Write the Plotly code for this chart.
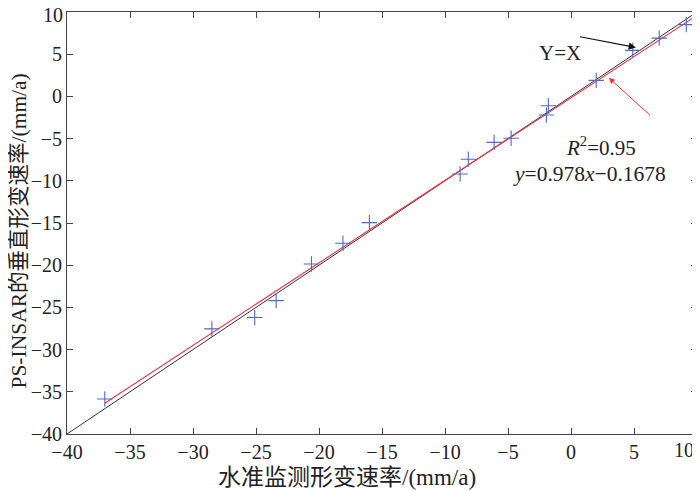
import plotly.graph_objects as go

# Data
level_rate = [-37.0, -28.5, -25.1, -23.4, -20.6, -18.1, -16.0, -8.8, -8.15, -6.1, -4.75,
              -1.95, -1.8, 2.0, 4.9, 7.0, 9.15]
psinsar_rate = [-35.85, -27.55, -26.2, -24.2, -19.85, -17.4, -14.95, -9.2, -7.45, -5.45, -4.95,
                -2.2, -1.1, 1.9, 5.45, 6.9, 8.5]

identity_x = [-40, 10]
identity_y = [-40, 10]

fit_slope = 0.978
fit_intercept = -0.1678
fit_x = [-37.0, 10.0]
fit_y = [fit_slope * v + fit_intercept for v in fit_x]

tick_vals_x = [-40, -35, -30, -25, -20, -15, -10, -5, 0, 5, 10]
# the last labels ("10") are drawn as annotations so they stay inside the page
tick_text_x = ["−40", "−35", "−30", "−25", "−20", "−15", "−10", "−5", "0", "5", ""]
last_tick_label_x = "10"
tick_vals_y = [-40, -35, -30, -25, -20, -15, -10, -5, 0, 5, 10]
tick_text_y = ["−40", "−35", "−30", "−25", "−20", "−15", "−10", "−5", "0", "5", ""]
last_tick_label_y = "10"

FONT = "Liberation Serif, Noto Sans CJK SC, serif"
TICKFONT = dict(family="Liberation Serif", size=20, color="#222222")

fig = go.Figure()
fig.add_trace(go.Scatter(x=identity_x, y=identity_y, mode="lines",
                         line=dict(color="#333333", width=1), showlegend=False))
fig.add_trace(go.Scatter(x=fit_x, y=fit_y, mode="lines",
                         line=dict(color="#ee3344", width=1.1), showlegend=False))
fig.add_trace(go.Scatter(x=level_rate, y=psinsar_rate, mode="markers",
                         marker=dict(symbol="cross-thin", size=11,
                                     line=dict(color="#5266cc", width=1.1)),
                         showlegend=False))

axis_common = dict(
    showgrid=False, zeroline=False, showline=True, linecolor="#444444", linewidth=1,
    mirror="ticks", ticks="inside", ticklen=6, tickcolor="#444444", automargin=False,
    ticklabeloverflow="allow",
    tickfont=TICKFONT,
)

fig.update_layout(
    width=692, height=483,
    margin=dict(l=59, r=3, t=4, b=57),
    paper_bgcolor="white", plot_bgcolor="white",
    font=dict(family=FONT, color="#222222"),
    xaxis=dict(range=[-40, 10], tickvals=tick_vals_x, ticktext=tick_text_x, **axis_common),
    yaxis=dict(range=[-40, 10], tickvals=tick_vals_y, ticktext=tick_text_y, **axis_common),
    annotations=[
        dict(x=tick_vals_x[-1], y=-0.038, xref="x", yref="paper", showarrow=False,
             xanchor="right", yanchor="middle", xshift=-1,
             text=last_tick_label_x, font=TICKFONT),
        dict(x=0, y=tick_vals_y[-1], xref="paper", yref="y", showarrow=False,
             xanchor="right", yanchor="middle", xshift=-2, yshift=-3,
             text=last_tick_label_y, font=TICKFONT),
        dict(x=0.444, y=-0.104, xref="paper", yref="paper", showarrow=False,
             xanchor="center", yanchor="middle",
             text="水准监测形变速率/(mm/a)", font=dict(family=FONT, size=23, color="#222222")),
        dict(x=-0.076, y=0.48, xref="paper", yref="paper", showarrow=False,
             xanchor="center", yanchor="middle", textangle=-90,
             text="PS-INSAR的垂直形变速率/(mm/a)", font=dict(family=FONT, size=21.5, color="#222222")),
        dict(x=5.15, y=5.8, ax=0.6, ay=7.1, xref="x", yref="y", axref="x", ayref="y",
             showarrow=True, arrowhead=2, arrowsize=1.2, arrowwidth=1.2, arrowcolor="#111111", text=""),
        dict(x=3.0, y=2.2, ax=6.4, ay=-2.4, xref="x", yref="y", axref="x", ayref="y",
             showarrow=True, arrowhead=2, arrowsize=1.2, arrowwidth=1, arrowcolor="#ff3333", text=""),
        dict(x=-0.9, y=5.2, xref="x", yref="y", showarrow=False, text="Y=X",
             font=dict(family=FONT, size=21, color="#222222")),
        dict(x=2.4, y=-5.95, xref="x", yref="y", showarrow=False, text="<i>R</i><sup>2</sup>=0.95",
             font=dict(family=FONT, size=21, color="#222222")),
        dict(x=1.45, y=-9.25, xref="x", yref="y", showarrow=False, text="<i>y</i>=0.978<i>x</i>−0.1678",
             font=dict(family=FONT, size=21.5, color="#222222")),
    ],
)

fig.write_html("out.html")
